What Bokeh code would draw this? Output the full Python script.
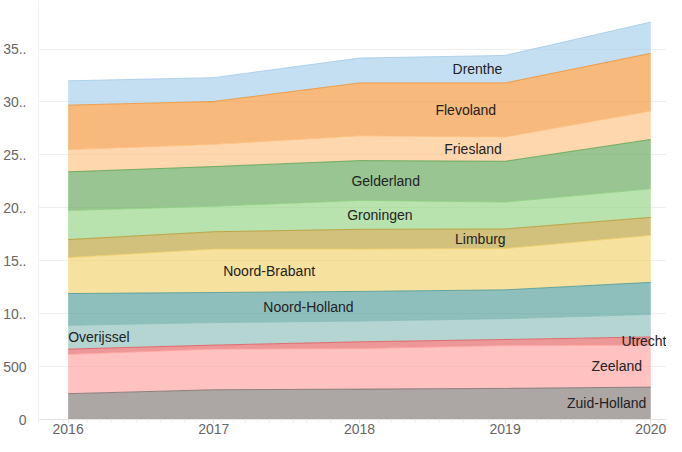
import numpy as np
from bokeh.plotting import figure
from bokeh.models import ColumnDataSource, Range1d, FixedTicker
from bokeh.core.properties import value
from bokeh.embed import file_html
from bokeh.resources import INLINE

years = [2016, 2017, 2018, 2019, 2020]

# bottom-up stacking order
provinces = ["Zuid-Holland", "Zeeland", "Utrecht", "Overijssel", "Noord-Holland",
             "Noord-Brabant", "Limburg", "Groningen", "Gelderland", "Friesland",
             "Flevoland", "Drenthe"]

zuid_holland = [2440, 2810, 2870, 2940, 3060]
zeeland = [3720, 3840, 3830, 4060, 3970]
utrecht = [490, 380, 640, 560, 770]
overijssel = [2250, 2130, 1960, 1970, 2130]
noord_holland = [3000, 2840, 2800, 2720, 3030]
noord_brabant = [3400, 4100, 4000, 3900, 4440]
limburg = [1700, 1640, 1870, 1850, 1700]
groningen = [2750, 2410, 2730, 2550, 2700]
gelderland = [3650, 3750, 3760, 3850, 4660]
friesland = [2100, 2100, 2340, 2300, 2690]
flevoland = [4200, 4050, 5000, 5100, 5450]
drenthe = [2300, 2250, 2350, 2600, 2950]

series = [zuid_holland, zeeland, utrecht, overijssel, noord_holland, noord_brabant,
          limburg, groningen, gelderland, friesland, flevoland, drenthe]

colors = ["#79706e", "#ff9d9a", "#e15759", "#86bcb6", "#499894", "#f1ce63",
          "#b6992d", "#8cd17d", "#59a14f", "#ffbe7d", "#f28e2b", "#a0cbe8"]

y_ticks = [0, 5000, 10000, 15000, 20000, 25000, 30000, 35000]
y_tick_labels = ["0", "500", "10..", "15..", "20..", "25..", "30..", "35.."]

# label anchors (x in years, alignment) per province, same order as provinces
label_x = [2019.97, 2019.94, 2020.108, 2016.0, 2017.65, 2017.38,
           2018.83, 2018.14, 2018.18, 2018.78, 2018.73, 2018.81]
label_align = ["right", "right", "right", "left", "center", "center",
               "center", "center", "center", "center", "center", "center"]

data = {"year": years}
for name, vals in zip(provinces, series):
    data[name] = vals
source = ColumnDataSource(data)

p = figure(width=666, height=436, output_backend="svg", toolbar_location=None,
           x_range=Range1d(2015.7966, 2020.108), y_range=Range1d(0, 39400),
           min_border_left=0, min_border_right=0, min_border_top=2,
           min_border_bottom=0)
p.outline_line_color = None
p.background_fill_color = "white"

p.varea_stack(stackers=provinces, x="year", source=source, color=colors,
              fill_alpha=0.62)
p.vline_stack(stackers=provinces, x="year", source=source, color=colors,
              line_width=1, line_alpha=0.8)

# labels at band midpoints
cum = np.cumsum(np.array(series, dtype=float), axis=0)
lows = np.vstack([np.zeros(len(years)), cum[:-1]])
xs, ys = [], []
for i, lx in enumerate(label_x):
    lo = np.interp(lx, years, lows[i])
    hi = np.interp(lx, years, cum[i])
    xs.append(lx)
    ys.append((lo + hi) / 2)
lab_src = ColumnDataSource(dict(x=xs, y=ys, text=provinces, align=label_align))
p.text(x="x", y="y", text="text", text_align="align", text_baseline="middle",
       source=lab_src, text_font=value("Liberation Sans"), text_font_size="14px",
       text_color="#222222")

# axes
p.xaxis.ticker = FixedTicker(ticks=years, minor_ticks=list(np.arange(2015.8, 2020.2, 1/12)))
p.xaxis.major_label_text_font = "Liberation Sans"
p.xaxis.major_label_text_font_size = "14px"
p.xaxis.major_label_text_color = "#666666"
p.xaxis.axis_line_color = "#e3e3e3"
p.xaxis.major_tick_line_color = "#e3e3e3"
p.xaxis.minor_tick_line_color = "#eeeeee"
p.xaxis.major_tick_out = 4
p.xaxis.major_tick_in = 0
p.xaxis.minor_tick_out = 3
p.xaxis.minor_tick_in = 0
p.xaxis.major_label_standoff = 0

p.yaxis.ticker = FixedTicker(ticks=y_ticks)
p.yaxis.major_label_overrides = {t: l for t, l in zip(y_ticks, y_tick_labels)}
p.yaxis.major_label_text_font = "Liberation Sans"
p.yaxis.major_label_text_font_size = "14px"
p.yaxis.major_label_text_color = "#666666"
p.yaxis.axis_line_color = "#f0f0f0"
p.yaxis.major_tick_line_color = None
p.yaxis.minor_tick_line_color = None
p.yaxis.major_label_standoff = 6

p.xgrid.grid_line_color = None
p.ygrid.grid_line_color = "#eeeeee"

open("out.html", "w").write(file_html(p, INLINE))
